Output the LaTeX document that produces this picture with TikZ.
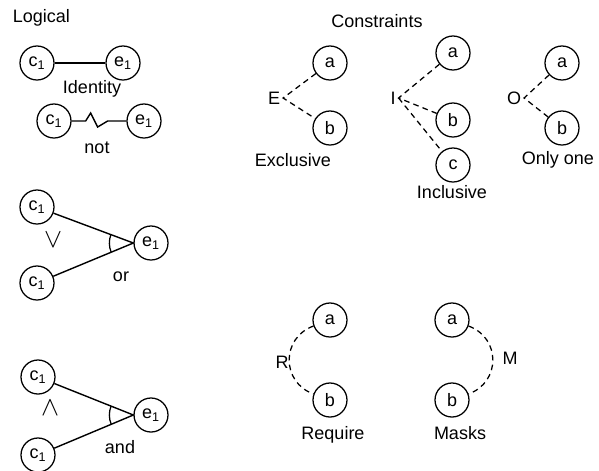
\documentclass[tikz,border=0pt]{standalone}
\usepackage{fontspec}
\setmainfont{Liberation Sans}
\usetikzlibrary{positioning, calc, angles}

\begin{document}
\begin{tikzpicture}[
  x=0.025cm, y=-0.025cm,
  font=\fontsize{12.8}{15}\selectfont,
  bubble/.style={draw, circle, line width=0.9pt, minimum size=0.85cm, inner sep=0pt},
  link/.style={line width=1pt},
  dashlink/.style={line width=0.9pt, dash pattern=on 4pt off 3pt},
  tag/.style={inner sep=2pt},
  sign/.style={scale=1.6}
]
\useasboundingbox (0,0) rectangle (599,470);

\node[anchor=west] (logical) at (8,18) {Logical};
\node[bubble] (idcause) at (37,63) {c\textsubscript{1}};
\node[bubble] (ideffect) at (123,63) {e\textsubscript{1}};
\node (identity) at (92,89) {Identity};
\node[bubble] (notcause) at (54,121) {c\textsubscript{1}};
\node[bubble] (noteffect) at (144,121) {e\textsubscript{1}};
\node (not) at (97,148) {not};

\node[bubble] (orcausea) at (37,207) {c\textsubscript{1}};
\node[bubble] (orcauseb) at (37,283) {c\textsubscript{1}};
\node[bubble] (oreffect) at (151,243) {e\textsubscript{1}};
\coordinate (orjoin) at (oreffect.west);
\node[sign] (orsign) at (53,240) {$\vee$};
\node (or) at (121,277) {or};

\node[bubble] (andcausea) at (38,377) {c\textsubscript{1}};
\node[bubble] (andcauseb) at (38,455) {c\textsubscript{1}};
\node[bubble] (andeffect) at (151,415) {e\textsubscript{1}};
\coordinate (andjoin) at (andeffect.west);
\node[sign] (andsign) at (50,408) {$\wedge$};
\node (and) at (120,447) {and};

\draw[link] (idcause) -- (ideffect);
\draw[link] (notcause.east) -- ++(14,0) -- ++(5,-8) -- ++(7,14) -- ++(10,-6) -- (noteffect.west);
\draw[link] (orcausea) -- (orjoin) -- (orcauseb);
\pic[draw, line width=0.9pt, angle radius=0.6cm] {angle=orcausea--orjoin--orcauseb};
\draw[link] (andcausea) -- (andjoin) -- (andcauseb);
\pic[draw, line width=0.9pt, angle radius=0.6cm] {angle=andcausea--andjoin--andcauseb};

\node (constraints) at (377,21) {Constraints};
\node[bubble] (exa) at (330,63) {a};
\node[bubble] (exb) at (330,128) {b};
\node[tag] (exmark) at (274,98) {E};
\node (exclusive) at (293,160) {Exclusive};
\node[bubble] (ina) at (453,53) {a};
\node[bubble] (inb) at (453,120) {b};
\node[tag] (inmark) at (393,98) {I};
\node[bubble] (inc) at (453,165) {c};
\node (inclusive) at (452,192) {Inclusive};
\node[bubble] (ona) at (562,63) {a};
\node[bubble] (onb) at (562,128) {b};
\node[tag] (onmark) at (514,98) {O};
\node (onlyone) at (558,160) {Only one};

\draw[dashlink] (exa) -- (exmark.east) -- (exb);
\draw[dashlink] (ina) -- (inmark.east) -- (inb);
\draw[dashlink] (inmark.east) -- (inc);
\draw[dashlink] (ona) -- (onmark.east) -- (onb);

\node[bubble] (rqa) at (330,320) {a};
\node[bubble] (rqb) at (330,400) {b};
\node[tag] (rqmark) at (282,362) {R};
\node (require) at (333,435) {Require};
\node[bubble] (mka) at (452,320) {a};
\node[bubble] (mkb) at (452,400) {b};
\node[tag] (mkmark) at (510,358) {M};
\node (masks) at (460,433) {Masks};

\draw[dashlink] (rqa) to[bend right=70, looseness=1.3] (rqb);
\draw[dashlink] (mka) to[bend left=70, looseness=1.3] (mkb);
\end{tikzpicture}
\end{document}
